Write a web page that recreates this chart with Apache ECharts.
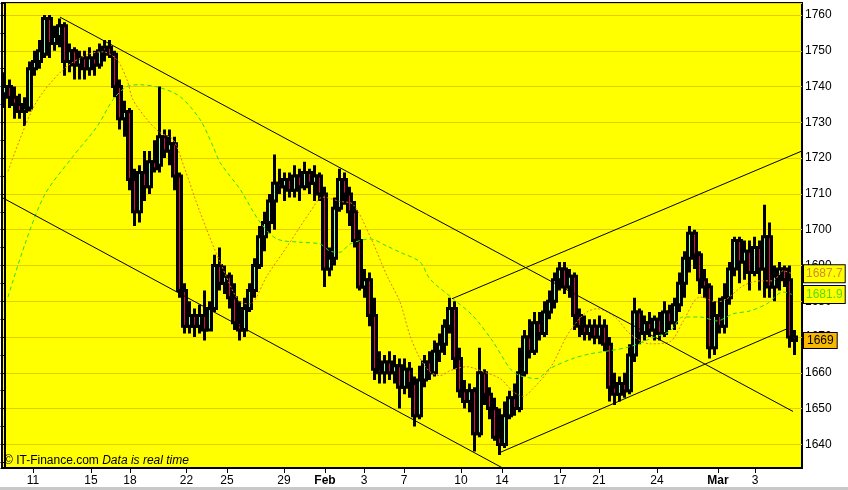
<!DOCTYPE html>
<html><head><meta charset="utf-8">
<script src="https://cdn.jsdelivr.net/npm/echarts@6/dist/echarts.min.js"></script>
<style>html,body{margin:0;padding:0;background:#fff}#c{width:848px;height:490px}</style>
</head><body><div id="c"></div>
<script>
const opens = [1738,1740,1737,1735,1733,1734,1745,1747,1749,1759,
1752,1754,1757,1747,1750,1746,1748,1745,1748,1746,
1750,1751,1749,1740,1731,1733,1714,1705,1716,1712,
1719,1718,1726,1722,1724,1715,1683,1673,1676,1673,
1676,1672,1678,1690,1685,1687,1681,1674,1672,1678,
1683,1690,1698,1702,1708,1713,1712,1714,1711,1715,
1712,1716,1713,1715,1710,1689,1692,1706,1714,1710,
1705,1697,1684,1686,1676,1661,1660,1663,1660,1662,
1656,1661,1657,1648,1658,1663,1660,1666,1668,1673,
1678,1664,1655,1652,1655,1643,1660,1654,1650,1642,
1640,1648,1653,1650,1660,1670,1666,1674,1671,1677,
1680,1686,1689,1684,1687,1676,1673,1671,1673,1670,
1673,1668,1656,1654,1657,1655,1665,1677,1671,1674,
1672,1675,1671,1677,1674,1679,1685,1692,1699,1693,
1686,1684,1667,1676,1673,1681,1689,1697,1691,1694,
1688,1695,1689,1698,1684,1687,1689,1686,1670];
const closes = [1740,1737,1735,1733,1734,1745,1747,1750,1759,1752,
1754,1757,1747,1750,1746,1748,1745,1748,1746,1750,
1751,1749,1740,1731,1733,1714,1705,1716,1712,1719,
1717,1726,1722,1724,1715,1683,1673,1676,1673,1676,
1672,1678,1690,1685,1687,1681,1674,1672,1678,1683,
1690,1698,1702,1708,1713,1712,1714,1711,1715,1712,
1716,1713,1715,1710,1689,1692,1706,1714,1710,1705,
1697,1684,1686,1676,1661,1660,1663,1660,1662,1656,
1661,1657,1648,1658,1663,1660,1666,1668,1673,1678,
1664,1655,1652,1655,1643,1660,1654,1650,1642,1640,
1648,1653,1650,1660,1670,1666,1674,1671,1677,1680,
1686,1689,1684,1687,1676,1673,1671,1673,1670,1673,
1668,1656,1654,1657,1655,1665,1677,1671,1674,1672,
1675,1671,1677,1674,1679,1685,1692,1699,1693,1686,
1684,1667,1676,1673,1681,1689,1697,1691,1694,1688,
1695,1689,1698,1684,1687,1689,1686,1670,1669];
const lows = [1734,1734,1731,1731,1729,1733,1743,1745,1748,1748,
1750,1751,1743,1744,1742,1742,1742,1743,1743,1745,
1747,1748,1737,1728,1726,1711,1701,1702,1708,1710,
1716,1716,1720,1718,1711,1681,1671,1671,1670,1671,
1669,1672,1677,1683,1682,1678,1672,1669,1670,1677,
1681,1689,1694,1699,1700,1710,1708,1709,1709,1708,
1711,1710,1708,1708,1684,1687,1690,1705,1707,1701,
1695,1683,1681,1673,1658,1657,1657,1658,1657,1650,
1654,1653,1645,1647,1656,1658,1659,1663,1665,1671,
1661,1653,1650,1649,1638,1642,1651,1647,1641,1637,
1639,1647,1648,1649,1659,1664,1665,1669,1670,1675,
1678,1683,1682,1681,1672,1670,1669,1669,1668,1668,
1666,1652,1651,1652,1653,1654,1663,1668,1669,1670,
1669,1669,1670,1672,1672,1677,1681,1688,1689,1682,
1681,1664,1665,1671,1671,1679,1687,1685,1686,1683,
1687,1683,1681,1681,1680,1683,1684,1667,1665];
const highs = [1744,1742,1740,1738,1737,1747,1750,1753,1760,1760,
1757,1759,1758,1752,1751,1750,1750,1751,1750,1752,
1753,1753,1750,1742,1736,1734,1717,1718,1722,1722,
1725,1740,1728,1728,1726,1716,1685,1680,1678,1679,
1683,1680,1693,1695,1690,1688,1685,1680,1681,1685,
1692,1701,1705,1710,1721,1717,1716,1716,1718,1717,
1719,1717,1718,1716,1712,1695,1709,1717,1716,1712,
1708,1700,1689,1688,1681,1666,1665,1666,1665,1664,
1664,1663,1659,1662,1665,1666,1669,1671,1675,1681,
1680,1667,1658,1657,1656,1667,1661,1656,1653,1650,
1652,1655,1657,1667,1672,1675,1677,1677,1680,1683,
1688,1691,1691,1689,1688,1678,1676,1675,1675,1676,
1675,1670,1660,1659,1660,1668,1681,1678,1676,1677,
1676,1677,1680,1679,1681,1688,1694,1701,1700,1694,
1689,1685,1680,1681,1685,1691,1698,1698,1697,1697,
1698,1697,1707,1702,1690,1691,1690,1690,1672];

const fastMA = [[0.7,1716.3],[6.1,1735],[11.7,1744.7],[16.5,1748.9],[19.7,1749.7],[22.5,1747.5],[24.5,1741.9],[25.7,1736.3],[28.5,1730.8],[31.1,1727.1],[33.7,1725.2],[36.1,1716.8],[39.1,1704.9],[43.1,1691],[47.1,1679.8],[49.1,1679.3],[52.5,1687.1],[57.1,1696.5],[61.1,1704.9],[63.7,1709.1],[67.1,1707.9],[69.7,1707.1],[73.1,1698.2],[76.5,1687.1],[79.1,1679.8],[81.1,1670.4],[83.1,1664],[85.1,1660.3],[87.1,1659.2],[89.1,1660.6],[92.5,1661.7],[95.7,1660.3],[99.1,1658.4],[101.7,1654.8],[103.7,1653.4],[105.7,1655.6],[109.1,1661.2],[112.5,1670.4],[114.5,1674.3],[116.5,1677],[118.5,1677.9],[122.1,1675.6],[125.1,1670.9],[129.1,1668.1],[133.1,1668.7],[135.7,1674.3],[139.1,1681.2],[142.5,1679.8],[144.5,1680.7],[147.7,1684.3],[151.1,1685.7],[153.7,1685.7],[155.7,1688.5],[157.5,1687.7]];
const slowMA = [[0.7,1681.2],[4.1,1696],[8.1,1709.9],[13.7,1720.5],[18.5,1728.8],[21.7,1736.3],[24.5,1740],[27.1,1740.5],[31.1,1739.7],[35.1,1737.2],[39.1,1730.8],[41.7,1723.3],[43.1,1718.8],[47.1,1711.3],[51.1,1702.1],[54.5,1697.4],[59.1,1696.5],[63.1,1696],[65.1,1694],[67.1,1693.7],[69.1,1696],[73.1,1697.4],[76.5,1695.4],[79.1,1693.7],[83.1,1691],[85.1,1686.2],[89.7,1680.7],[93.7,1675.9],[97.7,1668.7],[101.1,1661.2],[103.1,1659.2],[106.5,1658.4],[109.1,1661.2],[113.7,1664],[117.1,1665.3],[121.1,1666.2],[125.1,1667.3],[129.1,1669.5],[133.1,1671.7],[135.7,1675.6],[139.1,1675.6],[142.5,1674.5],[145.7,1676.5],[149.1,1677.3],[152.5,1679.3],[155.7,1682.6],[157.5,1681.9]];

const trendA = [[11.1,1759.4],[157.7,1649.2]];
const trendB = [[-0.5,1709.0],[99.5,1633.5]];
const trendC = [[98.7,1637.5],[156.5,1672.3]];
const trendD = [[89.5,1680.7],[159.5,1722.0]];

const lastValues = [1687.7, 1681.9, 1669];

const tickLabels = ['11','15','18','22','25','29','Feb','3','7','10','14','17','21','24','Mar','3'];
const tickPos = [5.7,17.3,25.1,36.4,44.5,55.9,64.1,71.9,79.9,91.3,99.5,111.1,118.9,130.5,142.7,150.1];

const FONT = '"Liberation Sans", Arial, sans-serif';
const N = 160;
const cats = Array.from({length: N}, (_, i) => String(i));
const candles = opens.map((o, i) => [o, closes[i], lows[i], highs[i]]);

function tickLabel(v) {
  let best = 0, bd = 1e9;
  tickPos.forEach((p, i) => { const d = Math.abs(p - v); if (d < bd) { bd = d; best = i; } });
  const t = tickLabels[best];
  return (t === 'Feb' || t === 'Mar') ? '{b|' + t + '}' : t;
}

function endLabel(v, color, bg, pad) {
  return {
    silent: true, symbol: 'none', animation: false,
    lineStyle: {color: 'rgba(0,0,0,0)', width: 0, opacity: 1},
    label: {show: true, position: 'end', distance: 2, color: color, backgroundColor: bg, opacity: 1,
      borderColor: '#000', borderWidth: 1, padding: pad,
      fontSize: 12, fontFamily: FONT, formatter: String(v)},
    emphasis: {disabled: true},
    data: [{yAxis: v}]
  };
}

const chart = echarts.init(document.getElementById('c'), null, {renderer: 'canvas'});
chart.setOption({
  animation: false,
  backgroundColor: '#fff',
  grid: {left: 2, right: 46, top: 3, bottom: 22, show: true, backgroundColor: '#ffff00', borderColor: '#000', borderWidth: 2},
  xAxis: [
    {type: 'category', data: cats, boundaryGap: true, axisLine: {show: false}, axisTick: {show: false}, axisLabel: {show: false}, splitLine: {show: false}},
    {type: 'value', min: -0.5, max: 159.5, position: 'bottom',
      axisLine: {show: true, lineStyle: {color: '#000', width: 2}},
      axisTick: {show: true, customValues: tickPos, length: 5, lineStyle: {color: '#000'}},
      axisLabel: {show: true, customValues: tickPos, formatter: tickLabel, color: '#000', fontSize: 12, fontFamily: FONT, margin: 7,
        rich: {b: {fontWeight: 'bold', fontSize: 12, fontFamily: FONT, color: '#000'}}},
      splitLine: {show: false}}
  ],
  yAxis: {
    type: 'value', position: 'right', min: 1633.4, max: 1763.35, splitNumber: 13, scale: true,
    axisLine: {show: true, lineStyle: {color: '#000', width: 2}},
    axisTick: {show: true, inside: true, length: 4, lineStyle: {color: '#000'}},
    minorTick: {show: true, splitNumber: 2, length: 4, lineStyle: {color: '#000'}},
    axisLabel: {color: '#000', fontSize: 12, fontFamily: FONT, margin: 3, showMinLabel: false, showMaxLabel: false,
      formatter: v => String(Math.round(v))},
    splitLine: {show: true, lineStyle: {color: '#e3cf00', width: 1}}
  },
  graphic: [
    {type: 'text', left: 4, top: 455, z: 10, style: {
      text: '{n|© IT-Finance.com }{i|Data is real time}',
      rich: {n: {fontSize: 12, fontFamily: FONT, fill: '#000'}, i: {fontSize: 12, fontFamily: FONT, fontStyle: 'italic', fill: '#000'}}
    }},
    {type: 'rect', left: 0, top: 487, z: 10, shape: {width: 848, height: 3}, style: {fill: '#c8c8c8'}}
  ],
  series: [
    {type: 'candlestick', xAxisIndex: 0, yAxisIndex: 0, data: candles, barWidth: 4,
      itemStyle: {color: '#90ffb0', color0: '#cc1048', borderColor: '#000', borderColor0: '#000', borderWidth: 3}},
    {type: 'line', xAxisIndex: 1, data: fastMA, showSymbol: false, smooth: 0.3, z: 3, clip: false,
      lineStyle: {color: '#e07a2a', width: 1, type: [2, 2]}, markLine: endLabel(lastValues[0], '#d08a30', '#ffff00', [3, 2, 2, 2])},
    {type: 'line', xAxisIndex: 1, data: slowMA, showSymbol: false, smooth: 0.3, z: 3, clip: false,
      lineStyle: {color: '#2ed82e', width: 1, type: [4, 3]}, markLine: endLabel(lastValues[1], '#55dd00', '#ffff00', [3, 2, 2, 2])},
    {type: 'line', xAxisIndex: 1, data: trendA, showSymbol: false, z: 4, lineStyle: {color: '#000', width: 1}},
    {type: 'line', xAxisIndex: 1, data: trendB, showSymbol: false, z: 4, lineStyle: {color: '#000', width: 1}},
    {type: 'line', xAxisIndex: 1, data: trendC, showSymbol: false, z: 4, clip: false, lineStyle: {color: '#000', width: 1},
      markLine: endLabel(lastValues[2], '#000', '#f8b800', [2, 3, 1, 3])},
    {type: 'line', xAxisIndex: 1, data: trendD, showSymbol: false, z: 4, lineStyle: {color: '#000', width: 1}}
  ]
});
</script>
</body></html>
